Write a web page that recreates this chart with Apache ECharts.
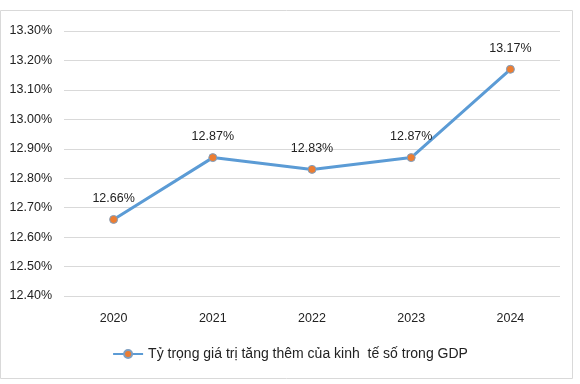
<!DOCTYPE html>
<html><head><meta charset="utf-8">
<script src="https://cdn.jsdelivr.net/npm/echarts@6/dist/echarts.min.js"></script>
<style>html,body{margin:0;padding:0;background:#fff}#c{width:580px;height:384px}</style>
</head><body><div id="c"></div>
<script>
const categories = ['2020','2021','2022','2023','2024'];
const values = [12.66, 12.87, 12.83, 12.87, 13.17];
const seriesName = 'Tỷ trọng giá trị tăng thêm của kinh  tế số trong GDP';
const yMin = 12.4, yMax = 13.3, yStep = 0.1;

const chart = echarts.init(document.getElementById('c'));
chart.setOption({
  animation: false,
  textStyle: {fontFamily: 'Liberation Sans', color: '#222'},
  graphic: [{type: 'rect', shape: {x: 0.5, y: 10.5, width: 572, height: 368}, style: {fill: 'none', stroke: '#d9d9d9', lineWidth: 1}, silent: true}],
  grid: {left: 64, right: 20, top: 31, bottom: 88},
  legend: {
    bottom: 18, left: 'center', itemWidth: 30, itemHeight: 10, itemGap: 4,
    textStyle: {fontSize: 14, color: '#222'},
    data: [seriesName]
  },
  xAxis: {
    type: 'category', data: categories, boundaryGap: true,
    axisLine: {show: false}, axisTick: {show: false},
    axisLabel: {fontSize: 12.5, color: '#222', margin: 16}
  },
  yAxis: {
    type: 'value', min: yMin, max: yMax, interval: yStep,
    axisLabel: {fontSize: 12.5, color: '#222', margin: 12, formatter: v => v.toFixed(2) + '%'},
    splitLine: {lineStyle: {color: '#d9d9d9'}},
    axisLine: {show: false}, axisTick: {show: false}
  },
  series: [{
    name: seriesName, type: 'line', data: values,
    lineStyle: {color: '#5b9bd5', width: 3},
    itemStyle: {color: '#ed7d31', borderColor: '#7f9fc0', borderWidth: 1},
    symbol: 'circle', symbolSize: 8,
    label: {show: true, position: 'top', distance: 10, fontSize: 12.5, color: '#222', formatter: p => p.value.toFixed(2) + '%'}
  }]
});
</script></body></html>
